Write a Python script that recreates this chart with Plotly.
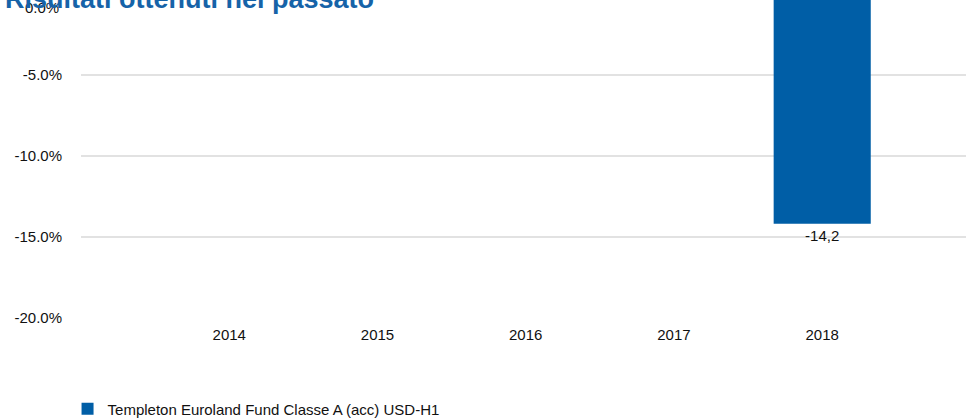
import plotly.graph_objects as go

# Calendar-year returns (%) of the fund; only 2018 has a full-year figure
years = ["2014", "2015", "2016", "2017", "2018"]
returns = [None, None, None, None, -14.2]
series_name = "Templeton Euroland Fund Classe A (acc) USD-H1"

y_ticks = [-5, -10, -15, -20]
y_tick_labels = [f"{v:.1f}%" for v in y_ticks]

# Italian-style decimal comma for the value labels
value_labels = ["" if v is None else f"{v:.1f}".replace(".", ",") for v in returns]

BLUE = "#005EA6"
FONT = "Liberation Sans, Arial, sans-serif"

fig = go.Figure()
fig.add_trace(go.Bar(
    x=years,
    y=returns,
    name=series_name,
    marker=dict(color=BLUE, line=dict(width=0)),
    width=0.655,
    text=value_labels,
    textposition="outside",
    textfont=dict(family=FONT, size=15, color="#111111"),
    cliponaxis=False,
    showlegend=True,
))

plot_top, plot_bottom = 0, 319
plot_h = plot_bottom - plot_top

fig.update_layout(
    width=966,
    height=420,
    margin=dict(l=81, r=0, t=0, b=420 - plot_bottom, pad=0, autoexpand=False),
    paper_bgcolor="white",
    plot_bgcolor="white",
    font=dict(family=FONT, size=15, color="#111111"),
    xaxis=dict(
        type="category",
        range=[-1.0, 4.97],
        showgrid=False,
        zeroline=False,
        showline=False,
        ticks="",
        ticklabelstandoff=5,
        tickfont=dict(family=FONT, size=15, color="#111111"),
    ),
    yaxis=dict(
        range=[-20.06, -0.41],
        tickvals=y_ticks,
        ticktext=y_tick_labels,
        showgrid=True,
        gridcolor="#e2e2e2",
        gridwidth=1.6,
        zeroline=False,
        showline=False,
        ticks="",
        ticklabelstandoff=18,
        tickfont=dict(family=FONT, size=15, color="#111111"),
    ),
    legend=dict(
        orientation="h",
        x=-0.0152,
        xanchor="left",
        yref="container",
        y=1 - 409 / 420,
        yanchor="middle",
        font=dict(family=FONT, size=15, color="#111111"),
        bgcolor="rgba(0,0,0,0)",
    ),
    annotations=[
        # 0% label sits just inside the top edge of the chart
        dict(
            text="0.0%",
            xref="paper", yref="paper",
            x=(61 - 81) / 885, y=1 - 7 / plot_h,
            xanchor="right", yanchor="middle",
            showarrow=False,
            font=dict(family=FONT, size=15, color="#111111"),
        ),
        # heading, partly above the top edge
        dict(
            text="<b>Risultati ottenuti nel passato</b>",
            xref="paper", yref="paper",
            x=(3 - 81) / 885, y=1 + 1 / plot_h,
            xanchor="left", yanchor="middle",
            showarrow=False,
            font=dict(family=FONT, size=27, color="#1663A8"),
        ),
    ],
)

fig.write_html("out.html")
